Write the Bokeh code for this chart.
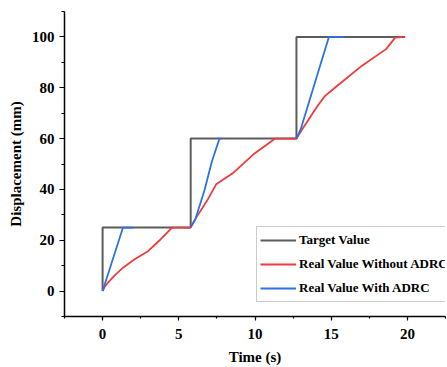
import numpy as np
from bokeh.plotting import figure
from bokeh.models import Range1d, SingleIntervalTicker, Legend, LegendItem
from bokeh.embed import file_html
from bokeh.resources import INLINE

nan = float("nan")

# Target step signal
target_t = [0, 0, 5.78, 5.78, 12.72, 12.72, 19.85]
target_y = [0, 25, 25, 60, 60, 100, 100]

# Real value without ADRC
red_t = [0, 0.12, 0.35, 0.8, 1.34, 2.1, 2.98, 3.8, 4.56, 5.75, 6.14, 6.84, 7.45,
         8.59, 9.9, 11.33, 12.72, 13.1, 14.1, 14.6, 15.3, 17.0, 18.6, 19.2, 19.85]
red_y = [0, 1.5, 3.3, 6.2, 9.2, 12.5, 15.7, 20.3, 25, 25, 28.9, 35.4, 42,
         46.6, 53.8, 60, 60, 63.7, 72.8, 76.8, 80.3, 88.6, 95.2, 99.7, 100]

# Real value with ADRC
blue_t = [0, 1.34, 2.0, nan, 5.78, 6.07, 6.7, 7.17, 7.67, 7.8, nan,
          12.72, 13.0, 14.2, 14.85, 15.8]
blue_y = [0, 25, 25, nan, 25, 28, 40, 51, 60, 60, nan,
          60, 63.7, 87.3, 100, 100]

x_ticks_interval = 5
y_ticks_interval = 20
legend_labels = ["Target Value", "Real Value Without ADRC", "Real Value With ADRC"]

FONT = "Liberation Serif"

p = figure(width=447, height=367, output_backend="svg", toolbar_location=None,
           x_range=Range1d(-2.5, 22.5), y_range=Range1d(-10, 110),
           min_border_left=64, min_border_right=2, min_border_top=11, min_border_bottom=51,
           x_axis_label="Time (s)", y_axis_label="Displacement (mm)")
p.outline_line_color = None
p.xgrid.visible = False
p.ygrid.visible = False

r_target = p.line(target_t, target_y, line_color="#5c5c5c", line_width=2)
r_red = p.line(red_t, red_y, line_color="#ee3b3b", line_width=1.8)
r_blue = p.line(blue_t, blue_y, line_color="#2a72e6", line_width=1.8)

p.xaxis.ticker = SingleIntervalTicker(interval=x_ticks_interval, num_minor_ticks=2)
p.yaxis.ticker = SingleIntervalTicker(interval=y_ticks_interval, num_minor_ticks=2)

for ax in (p.xaxis, p.yaxis):
    ax.axis_line_color = "black"
    ax.axis_line_width = 1.5
    ax.major_tick_line_color = "black"
    ax.minor_tick_line_color = "black"
    ax.major_tick_line_width = 1.2
    ax.minor_tick_line_width = 1.2
    ax.major_tick_in = 0
    ax.minor_tick_in = 0
    ax.major_label_text_font = FONT
    ax.major_label_text_font_style = "bold"
    ax.major_label_text_font_size = "15px"
    ax.major_label_text_color = "black"
    ax.axis_label_text_font = FONT
    ax.axis_label_text_font_style = "bold"
    ax.axis_label_text_font_size = "15px"
    ax.axis_label_text_color = "black"

p.xaxis.major_tick_out = 4
p.xaxis.minor_tick_out = 2
p.xaxis.major_label_standoff = 8
p.xaxis.axis_label_standoff = 7
p.yaxis.major_tick_out = 5
p.yaxis.minor_tick_out = 3
p.yaxis.major_label_standoff = 5
p.yaxis.axis_label_standoff = 5

legend = Legend(items=[LegendItem(label=legend_labels[0], renderers=[r_target]),
                       LegendItem(label=legend_labels[1], renderers=[r_red]),
                       LegendItem(label=legend_labels[2], renderers=[r_blue])],
                location=(192, 14))
legend.label_text_font = FONT
legend.label_text_font_style = "bold"
legend.label_text_font_size = "13px"
legend.label_text_color = "black"
legend.glyph_width = 36
legend.glyph_height = 20
legend.label_height = 20
legend.label_standoff = 3
legend.spacing = 4
legend.padding = 3
legend.margin = 0
legend.border_line_color = "#9a9a9a"
legend.border_line_width = 1
legend.background_fill_color = "white"
legend.background_fill_alpha = 1
p.add_layout(legend, "center")

open("out.html", "w").write(file_html(p, INLINE))
